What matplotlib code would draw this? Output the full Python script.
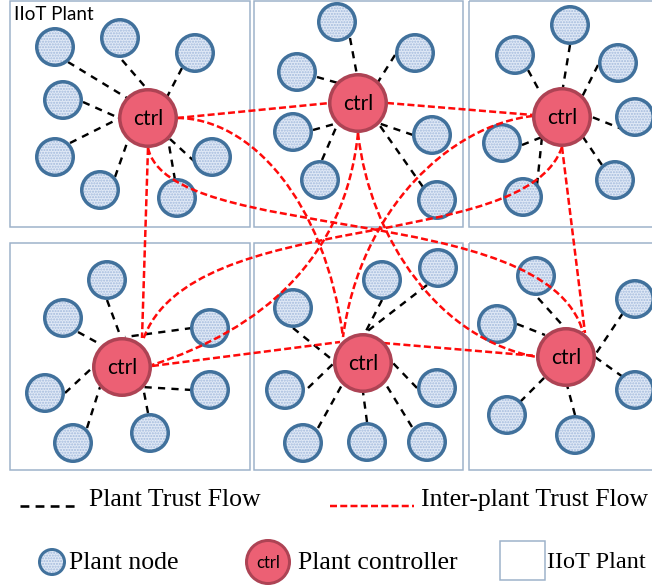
import matplotlib.pyplot as plt
from matplotlib.patches import Circle, Rectangle, PathPatch
from matplotlib.path import Path

# diagram geometry, in picture pixels (y grows downwards)
plant_boxes = [(10, 1, 250, 227), (254, 1, 463, 227), (469, 1, 662, 227),
               (10, 243, 250, 470), (254, 243, 463, 470), (469, 243, 662, 470)]

controllers = [(148, 118), (358, 103), (562, 117),
               (122, 367), (363, 363), (566, 357)]

plant_nodes = [
    [(55, 47), (120, 38), (195, 53), (63, 100), (55, 157), (100, 190), (177, 198), (212, 157)],
    [(337, 22), (415, 53), (297, 72), (293, 132), (320, 180), (432, 135), (437, 200)],
    [(570, 25), (515, 55), (618, 63), (635, 117), (502, 143), (523, 197), (615, 180)],
    [(107, 280), (63, 318), (210, 328), (45, 393), (210, 390), (73, 443), (150, 433)],
    [(293, 308), (382, 280), (438, 268), (285, 390), (437, 388), (303, 443), (367, 442), (427, 442)],
    [(536, 276), (497, 324), (635, 299), (635, 390), (507, 415), (575, 435)],
]

# plant trust flow: node edge -> controller edge
plant_links = [
    ((68, 62), (127, 98)), ((122, 60), (147, 89)), ((182, 68), (167, 97)),
    ((83, 102), (119, 118)), ((70, 143), (120, 118)), ((115, 177), (127, 143)),
    ((175, 180), (168, 139)), ((195, 162), (170, 139)),
    ((350, 38), (357, 75)), ((395, 55), (378, 82)), ((317, 77), (338, 83)),
    ((313, 130), (338, 123)), ((322, 160), (338, 123)), ((413, 135), (378, 123)),
    ((423, 187), (378, 123)),
    ((570, 45), (563, 87)), ((528, 70), (540, 92)), ((598, 65), (582, 97)),
    ((637, 135), (592, 117)), ((522, 145), (542, 137)), ((537, 185), (542, 137)),
    ((602, 165), (583, 137)),
    ((107, 300), (120, 335)), ((78, 332), (98, 343)), ((192, 328), (125, 337)),
    ((65, 393), (92, 368)), ((192, 390), (142, 387)), ((87, 428), (100, 387)),
    ((148, 413), (143, 387)),
    ((293, 328), (335, 362)), ((382, 300), (365, 333)), ((427, 285), (365, 333)),
    ((308, 388), (335, 362)), ((417, 388), (392, 362)), ((318, 428), (343, 383)),
    ((367, 422), (363, 392)), ((412, 427), (385, 383)),
    ((538, 298), (565, 328)), ((517, 324), (545, 335)), ((623, 313), (595, 355)),
    ((623, 377), (595, 357)), ((520, 402), (545, 377)), ((575, 415), (567, 385)),
]

# inter-plant trust flow
inter_straight = [((177, 118), (330, 103)), ((387, 103), (533, 115)),
                  ((148, 148), (142, 338)), ((562, 147), (585, 333)),
                  ((152, 366), (340, 342)), ((383, 343), (537, 356))]
inter_curves = [
    [(177, 118), (250, 118), (325, 200), (343, 337)],   # ctrl1 -> ctrl5
    [(148, 148), (170, 245), (545, 200), (583, 332)],   # ctrl1 -> ctrl6
    [(562, 147), (525, 255), (190, 205), (143, 340)],   # ctrl3 -> ctrl4
    [(358, 133), (345, 260), (260, 330), (152, 365)],   # ctrl2 -> ctrl4
    [(358, 133), (370, 240), (440, 340), (537, 357)],   # ctrl2 -> ctrl6
    [(533, 116), (450, 125), (360, 210), (343, 337)],   # ctrl3 -> ctrl5
]

PX = 0.72  # points per pixel at dpi=100
NODE_EDGE, NODE_FILL, NODE_DOT = "#41719c", "#e0e9f6", "#a3badc"
CTRL_EDGE, CTRL_FILL = "#ad4354", "#ec6074"
BOX_EDGE = "#9cb1c9"
RED = "#ff0a0a"


def draw_node(ax, x, y, r=20, lw=3.5):
    ax.add_patch(Circle((x, y), r - lw / 2, facecolor=NODE_FILL, edgecolor=NODE_DOT,
                        hatch="......", lw=0, zorder=3))
    ax.add_patch(Circle((x, y), r - lw / 2, fill=False, edgecolor=NODE_EDGE,
                        lw=lw * PX, zorder=3))


def draw_ctrl(ax, x, y, r=30, lw=3.5, size=15):
    ax.add_patch(Circle((x, y), r - lw / 2, facecolor=CTRL_FILL, edgecolor=CTRL_EDGE,
                        lw=lw * PX, zorder=5))
    ax.text(x, y + 1, "ctrl", ha="center", va="center", fontsize=size,
            family="Lato", zorder=6)


fig = plt.figure(figsize=(6.52, 5.85), dpi=100)
ax = fig.add_axes([0, 0, 1, 1])
ax.set_xlim(0, 652)
ax.set_ylim(585, 0)
ax.axis("off")

for x0, y0, x1, y1 in plant_boxes:
    ax.add_patch(Rectangle((x0, y0), x1 - x0, y1 - y0, fill=False,
                           edgecolor=BOX_EDGE, lw=1.5 * PX, zorder=1))
ax.text(14, 15, "IIoT Plant", ha="left", va="center", fontsize=13.5, family="Lato")

for (x1, y1), (x2, y2) in plant_links:
    ax.plot([x1, x2], [y1, y2], color="black", lw=2.4 * PX,
            dashes=(3.0, 2.6), zorder=2)

for nodes in plant_nodes:
    for x, y in nodes:
        draw_node(ax, x, y)

red_lw = 2.5 * PX
red_dash = (0, (2.8, 1.3))
for (x1, y1), (x2, y2) in inter_straight:
    ax.plot([x1, x2], [y1, y2], color=RED, lw=red_lw, linestyle=red_dash, zorder=4)
for pts in inter_curves:
    path = Path(pts, [Path.MOVETO, Path.CURVE4, Path.CURVE4, Path.CURVE4])
    ax.add_patch(PathPatch(path, fill=False, edgecolor=RED, lw=red_lw,
                           linestyle=red_dash, zorder=4))

for x, y in controllers:
    draw_ctrl(ax, x, y)

# legend
serif = "Liberation Serif"
fs = 18.5
ax.plot([20, 80], [506, 506], color="black", lw=2.6 * PX, dashes=(3.4, 2.4))
ax.text(89, 500, "Plant Trust Flow", ha="left", va="center", fontsize=fs, family=serif)
ax.plot([330, 414], [506, 506], color=RED, lw=red_lw, linestyle=red_dash)
ax.text(421, 500, "Inter-plant Trust Flow", ha="left", va="center", fontsize=fs, family=serif)

draw_node(ax, 52, 562, r=14, lw=3)
ax.text(69, 563, "Plant node", ha="left", va="center", fontsize=fs, family=serif)
draw_ctrl(ax, 268, 562, r=23, lw=3, size=12)
ax.text(298, 563, "Plant controller", ha="left", va="center", fontsize=fs, family=serif)
ax.add_patch(Rectangle((500, 541), 45, 39, fill=False, edgecolor=BOX_EDGE, lw=1.5 * PX))
ax.text(547, 563, "IIoT Plant", ha="left", va="center", fontsize=17.5, family=serif)

fig.savefig("out.png", dpi=100)
